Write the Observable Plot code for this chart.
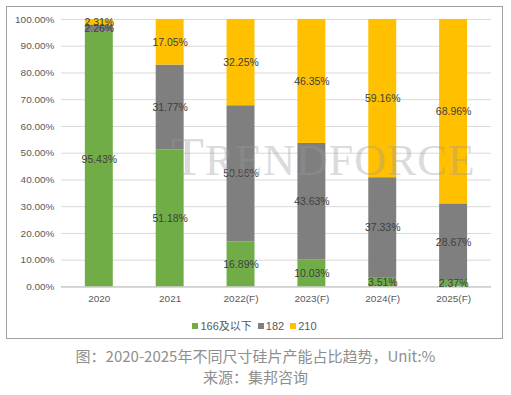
<!DOCTYPE html>
<html>
<head>
<meta charset="utf-8">
<script src="https://cdn.jsdelivr.net/npm/d3@7"></script>
<script src="https://cdn.jsdelivr.net/npm/@observablehq/plot@0.6"></script>
<style>
  html, body { margin: 0; padding: 0; background: #fff; }
  body { width: 511px; height: 395px; position: relative; overflow: hidden; font-family: "Liberation Sans", "Noto Sans CJK SC", sans-serif; }
  #box { position: absolute; left: 6px; top: 6px; width: 497px; height: 333px; border: 1px solid #a3a3a3; box-sizing: border-box; }
  #chart { position: absolute; left: 1px; top: 1px; }
  #watermark { position: absolute; left: 171px; top: 126px; font-family: "Liberation Serif", "DejaVu Serif", serif; color: #9a9a9a; opacity: 0.35; pointer-events: none; white-space: nowrap; letter-spacing: 1px; }
  #watermark .big { font-size: 54px; }
  #watermark .small { font-size: 44px; }
  #legend { position: absolute; left: 0; right: 0; top: 310px; text-align: center; font-size: 11px; color: #595959; font-family: "Liberation Sans", "Noto Sans CJK SC", sans-serif; }
  #legend span.item { margin: 0 3px; }
  #legend span.sw { display: inline-block; width: 6px; height: 6px; margin-right: 2px; vertical-align: 1px; }
  #caption { position: absolute; left: 0; width: 511px; top: 345px; text-align: center; font-family: "Noto Sans CJK SC", sans-serif; font-size: 15px; line-height: 21px; color: #8e8e8e; }
</style>
</head>
<body>
<div id="box">
  <div id="chart"></div>
  <div id="legend"></div>
</div>
<div id="watermark"><span class="big">T</span><span class="small">RENDFORCE</span></div>
<div id="caption">图：2020-2025年不同尺寸硅片产能占比趋势，Unit:%<br>来源：集邦咨询</div>
<script>
const years = ["2020", "2021", "2022(F)", "2023(F)", "2024(F)", "2025(F)"];
const seriesNames = ["166及以下", "182", "210"];
const s166 = [95.43, 51.18, 16.89, 10.03, 3.51, 2.37];
const s182 = [2.26, 31.77, 50.86, 43.63, 37.33, 28.67];
const s210 = [2.31, 17.05, 32.25, 46.35, 59.16, 68.96];
const seriesColors = ["#70ad47", "#7f7f7f", "#ffc000"];
const yTicks = [0, 10, 20, 30, 40, 50, 60, 70, 80, 90, 100];

const seriesValues = [s166, s182, s210];
const rows = [];
seriesNames.forEach((name, si) => {
  years.forEach((yr, i) => rows.push({ year: yr, size: name, value: seriesValues[si][i] }));
});

const chart = Plot.plot({
  width: 495,
  height: 300,
  marginTop: 11,
  marginBottom: 21,
  marginLeft: 53,
  marginRight: 11,
  style: { fontFamily: "Liberation Sans, Noto Sans CJK SC, sans-serif", fontSize: "10px", color: "#595959", background: "transparent" },
  x: { domain: years, paddingInner: 0.6, paddingOuter: 0.3, label: null },
  y: { domain: [0, 100], label: null },
  color: { domain: seriesNames, range: seriesColors },
  marks: [
    Plot.gridY(yTicks, { stroke: "#d9d9d9", strokeOpacity: 1 }),
    Plot.axisY(yTicks, { tickSize: 0, tickPadding: 7, tickFormat: d => d.toFixed(2) + "%", fill: "#595959", fontSize: 10, label: null }),
    Plot.axisX({ tickSize: 0, tickPadding: 8, fill: "#595959", fontSize: 10, label: null }),
    Plot.barY(rows, Plot.stackY({ x: "year", y: "value", fill: "size" })),
    Plot.ruleY([0], { stroke: "#bfbfbf" }),
    Plot.text(rows, Plot.stackY({ x: "year", y: "value", z: "size", text: d => d.value.toFixed(2) + "%", fill: "#404040", fontSize: 10.5 }))
  ]
});
document.getElementById("chart").appendChild(chart);

const legend = document.getElementById("legend");
seriesNames.forEach((name, i) => {
  const item = document.createElement("span");
  item.className = "item";
  const sw = document.createElement("span");
  sw.className = "sw";
  sw.style.background = seriesColors[i];
  item.appendChild(sw);
  item.appendChild(document.createTextNode(name));
  legend.appendChild(item);
});
</script>
</body>
</html>
